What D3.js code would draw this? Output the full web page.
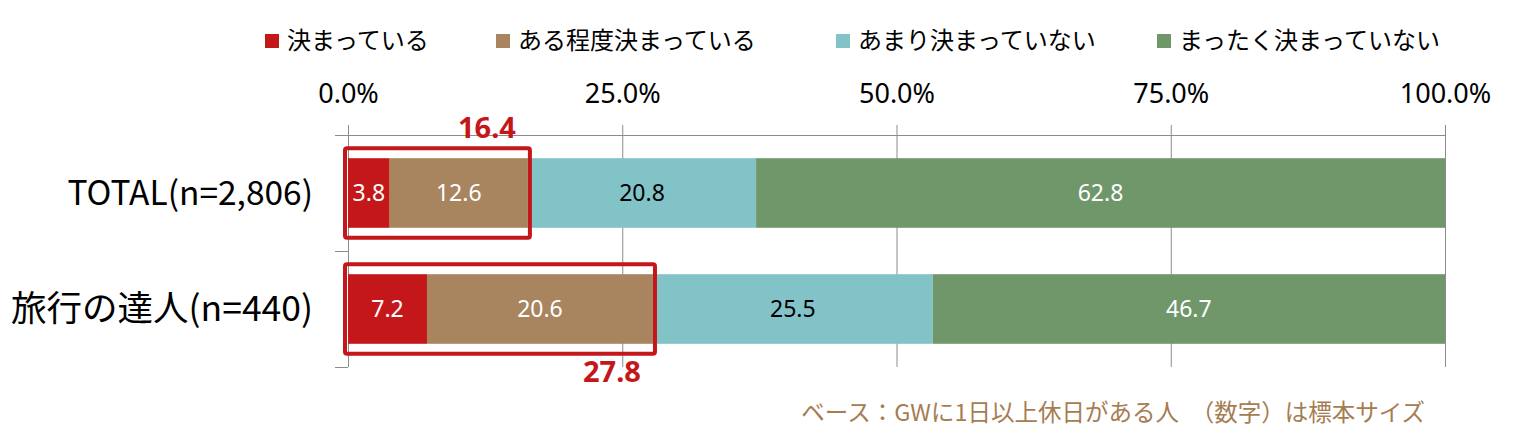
<!DOCTYPE html>
<html>
<head>
<meta charset="utf-8">
<script src="https://cdn.jsdelivr.net/npm/d3@7"></script>
<style>
  body { margin: 0; background: #fff; }
  svg { display: block; font-family: "Noto Sans CJK JP", "Noto Sans", sans-serif; }
</style>
</head>
<body>
<svg id="chart" width="1519" height="445"></svg>
<script>
const categories = ["TOTAL(n=2,806)", "旅行の達人(n=440)"];
const seriesNames = ["決まっている", "ある程度決まっている", "あまり決まっていない", "まったく決まっていない"];
const kimatteiru = [3.8, 7.2];
const aruteido = [12.6, 20.6];
const amari = [20.8, 25.5];
const mattaku = [62.8, 46.7];
const highlightTotals = [16.4, 27.8];
const tickValues = [0, 25, 50, 75, 100];
const footnote = "ベース：GWに1日以上休日がある人　（数字）は標本サイズ";

const colors = ["#c4171a", "#a8855f", "#82c3c8", "#6f9769"];
const textColors = ["#fff", "#fff", "#000", "#fff"];

const svg = d3.select("#chart");

const x = d3.scaleLinear().domain([0, 100]).range([348, 1445]);
const y = d3.scaleBand().domain(categories).range([135, 367]).paddingInner(0.4).paddingOuter(0.2);

// stack the series
const rows = categories.map((c, i) => ({
    cat: c,
    s0: kimatteiru[i], s1: aruteido[i], s2: amari[i], s3: mattaku[i]
}));
const stack = d3.stack().keys(["s0", "s1", "s2", "s3"]);
const stacked = stack(rows);

// gridlines
svg.append("g")
    .selectAll("line")
    .data(tickValues.slice(1))
    .join("line")
    .attr("x1", d => x(d) + 0.5).attr("x2", d => x(d) + 0.5)
    .attr("y1", 125).attr("y2", 367)
    .attr("stroke", "#8c8c8c").attr("stroke-width", 1);

// top axis
const xAxis = d3.axisTop(x).tickValues(tickValues).tickSize(0).tickFormat(d => d.toFixed(1) + "%");
const gx = svg.append("g").attr("transform", "translate(0,135)").call(xAxis);
gx.select(".domain").attr("stroke", "#8c8c8c").attr("d", "M335,0.5H1445");
gx.selectAll("text")
    .attr("y", -32)
    .attr("font-size", 27)
    .attr("fill", "#000")
    .attr("font-family", "'Noto Sans', sans-serif");

// left axis with category boundary ticks
svg.append("line")
    .attr("x1", 348.5).attr("x2", 348.5).attr("y1", 125).attr("y2", 367)
    .attr("stroke", "#8c8c8c");
svg.append("g").selectAll("line")
    .data([135, (135 + 367) / 2, 367])
    .join("line")
    .attr("x1", 335).attr("x2", 348).attr("y1", d => d + 0.5).attr("y2", d => d + 0.5)
    .attr("stroke", "#8c8c8c");

// category labels
svg.append("g").selectAll("text")
    .data(categories)
    .join("text")
    .attr("x", 313)
    .attr("y", d => y(d) + y.bandwidth() / 2)
    .attr("dy", "0.35em")
    .attr("text-anchor", "end")
    .attr("font-size", (d, i) => i === 0 ? 33.5 : 35.5)
    .attr("fill", "#000")
    .text(d => d);

// bars
const layers = svg.append("g").selectAll("g")
    .data(stacked)
    .join("g")
    .attr("fill", (d, i) => colors[i]);

layers.selectAll("rect")
    .data(d => d)
    .join("rect")
    .attr("x", d => x(d[0]))
    .attr("width", d => x(d[1]) - x(d[0]))
    .attr("y", d => y(d.data.cat))
    .attr("height", y.bandwidth());

// value labels
stacked.forEach((layer, li) => {
    svg.append("g").selectAll("text")
        .data(layer)
        .join("text")
        .attr("x", d => (x(d[0]) + x(d[1])) / 2)
        .attr("y", d => y(d.data.cat) + y.bandwidth() / 2)
        .attr("dy", "0.36em")
        .attr("text-anchor", "middle")
        .attr("font-size", 23)
        .attr("font-family", "'Noto Sans', sans-serif")
        .attr("fill", textColors[li])
        .text(d => (d[1] - d[0]).toFixed(1));
});

// highlight boxes (決まっている + ある程度)
svg.append("g").selectAll("rect")
    .data(categories)
    .join("rect")
    .attr("x", x(0) - 3)
    .attr("width", (d, i) => x(highlightTotals[i]) - x(0) + 5)
    .attr("y", d => y(d) - 10)
    .attr("height", y.bandwidth() + 20)
    .attr("rx", 2)
    .attr("fill", "none")
    .attr("stroke", "#c4171a")
    .attr("stroke-width", 4);

svg.append("g").selectAll("text")
    .data(categories)
    .join("text")
    .attr("x", (d, i) => x(highlightTotals[i]) - 12)
    .attr("y", (d, i) => i === 0 ? y(d) - 20 : y(d) + y.bandwidth() + 38)
    .attr("text-anchor", "end")
    .attr("font-size", 29)
    .attr("font-weight", "bold")
    .attr("font-family", "'Noto Sans', sans-serif")
    .attr("fill", "#c4171a")
    .text((d, i) => highlightTotals[i].toFixed(1));

// legend
const legendX = [265, 496, 836, 1157];
const legend = svg.append("g").selectAll("g")
    .data(seriesNames)
    .join("g")
    .attr("transform", (d, i) => `translate(${legendX[i]},41)`);
legend.append("rect")
    .attr("x", 0).attr("y", -7).attr("width", 14).attr("height", 14)
    .attr("fill", (d, i) => colors[i]);
legend.append("text")
    .attr("x", 22).attr("dy", "0.35em")
    .attr("font-size", 24)
    .attr("fill", "#000")
    .text(d => d);

// footnote
svg.append("text")
    .attr("x", 1425).attr("y", 421)
    .attr("text-anchor", "end")
    .attr("font-size", 23.5)
    .attr("fill", "#a67c52")
    .text(footnote);
</script>
</body>
</html>
